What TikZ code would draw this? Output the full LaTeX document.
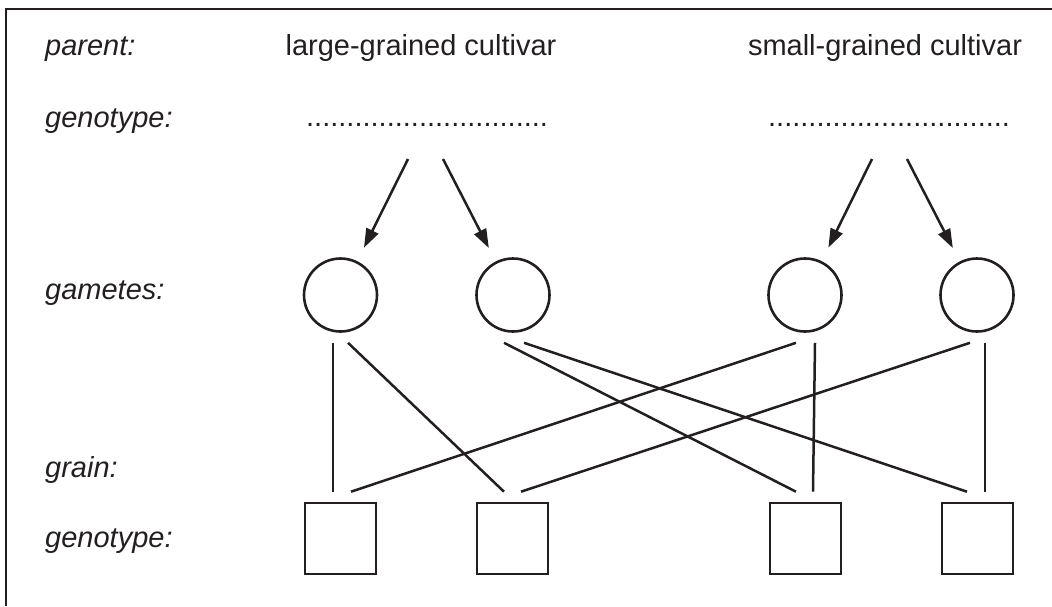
\documentclass[tikz,border=0pt]{standalone}
\usepackage{fontspec}
\setmainfont{Liberation Sans}
\usetikzlibrary{arrows.meta}
\definecolor{ink}{RGB}{35,31,32}

\begin{document}
\begin{tikzpicture}[x=1pt,y=-1pt,color=ink]
        \def\gy{295}
        \def\sy{538.5}
        \tikzstyle{lbl}=[anchor=base west, inner sep=0pt, font=\fontsize{29}{34}\selectfont\itshape]
        \tikzstyle{txt}=[anchor=base, inner sep=0pt, font=\fontsize{29}{34}\selectfont]
        \tikzstyle{gamete}=[circle, draw=ink, line width=2.6pt, minimum size=73pt, inner sep=0pt]
        \tikzstyle{grain}=[rectangle, draw=ink, line width=2.6pt, minimum size=71pt, inner sep=0pt]
        \tikzstyle{link}=[line width=2.5pt]
        \tikzstyle{arr}=[line width=2.5pt, shorten >=15pt, -{Triangle[length=19pt,width=13pt]}]

        \useasboundingbox (0,0) rectangle (1052,606);

        % Frame
        \draw[line width=2.2pt] (6,606) -- (6,9) -- (1052,9);

        % Labels
        \node[lbl] (parent) at (45,55) {parent:};
        \node[lbl] (geno) at (45,127) {genotype:};
        \node[lbl] (gam) at (45,299) {gametes:};
        \node[lbl] (grainlbl) at (45,477) {grain:};
        \node[lbl] (genograin) at (45,547) {genotype:};

        % Parents
        \node[txt] (large) at (421,55) {large-grained cultivar};
        \node[txt] (small) at (885,55) {small-grained cultivar};
        \node[txt] (ldots) at (427,126) {..............................};
        \node[txt] (sdots) at (889,126) {..............................};

        % Gametes
        \node[gamete] (g1) at (340.5,\gy) {};
        \node[gamete] (g2) at (513,\gy) {};
        \node[gamete] (g3) at (805,\gy) {};
        \node[gamete] (g4) at (977,\gy) {};

        % Grains
        \node[grain] (s1) at (340.5,\sy) {};
        \node[grain] (s2) at (512.5,\sy) {};
        \node[grain] (s3) at (805.5,\sy) {};
        \node[grain] (s4) at (977.5,\sy) {};

        % Arrows
        \coordinate (la) at (408,159);
        \coordinate (lb) at (443,159);
        \coordinate (sa) at (872,159);
        \coordinate (sb) at (907,159);
        \draw[arr] (la) -- (g1);
        \draw[arr] (lb) -- (g2);
        \draw[arr] (sa) -- (g3);
        \draw[arr] (sb) -- (g4);

        % Crosses
        \draw[link] ([xshift=-7.5pt,yshift=-10pt]g1.south) -- ([xshift=-7.5pt,yshift=10pt]s1.north);
        \draw[link] ([xshift=7.5pt,yshift=-10pt]g1.south) -- ([xshift=-8.5pt,yshift=10pt]s2.north);
        \draw[link] ([xshift=-9pt,yshift=-10pt]g2.south) -- ([xshift=-9.5pt,yshift=10pt]s3.north);
        \draw[link] ([xshift=11pt,yshift=-10pt]g2.south) -- ([xshift=-10.5pt,yshift=10pt]s4.north);
        \draw[link] ([xshift=-9pt,yshift=-10pt]g3.south) -- ([xshift=10.5pt,yshift=10pt]s1.north);
        \draw[link] ([xshift=10pt,yshift=-10pt]g3.south) -- ([xshift=7.5pt,yshift=10pt]s3.north);
        \draw[link] ([xshift=-7pt,yshift=-10pt]g4.south) -- ([xshift=8.5pt,yshift=10pt]s2.north);
        \draw[link] ([xshift=8pt,yshift=-10pt]g4.south) -- ([xshift=7.5pt,yshift=10pt]s4.north);

    \end{tikzpicture}
\end{document}
